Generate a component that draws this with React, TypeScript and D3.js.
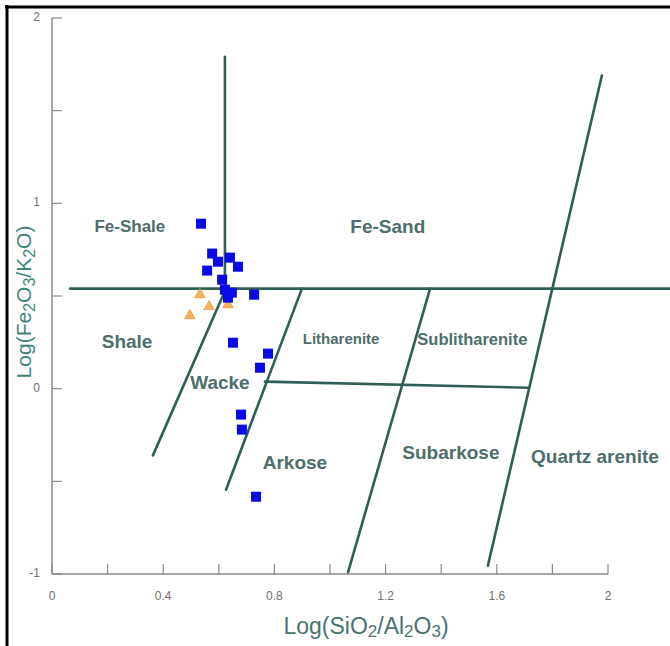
import React from "react";
import * as d3 from "d3";

const xTicks = [0, 0.2, 0.4, 0.6, 0.8, 1.0, 1.2, 1.4, 1.6, 1.8, 2.0];
const xTickLabels = ["0", "0.4", "0.8", "1.2", "1.6", "2"];
const xTickLabelVals = [0, 0.4, 0.8, 1.2, 1.6, 2];
const yTicks = [-1, -0.5, 0, 0.5, 1, 1.5, 2];
const yTickLabelVals = [-1, 0, 1, 2];
const yTickLabels = ["-1", "0", "1", "2"];

// boundary segments [x1,y1,x2,y2] in data units
const boundaries: [number, number, number, number][] = [
  [0.065, 0.54, 2.25, 0.54],
  [0.622, 1.79, 0.622, 0.54],
  [0.363, -0.36, 0.626, 0.54],
  [0.626, -0.545, 0.899, 0.54],
  [0.766, 0.038, 1.712, 0.005],
  [1.065, -0.99, 1.36, 0.54],
  [1.568, -0.955, 1.978, 1.69],
];

const regionNames = ["Fe-Shale", "Fe-Sand", "Shale", "Wacke", "Litharenite", "Sublitharenite", "Arkose", "Subarkose", "Quartz arenite"];
const regionX = [0.28, 1.208, 0.27, 0.604, 1.04, 1.512, 0.874, 1.435, 1.953];
const regionY = [0.87, 0.865, 0.245, 0.025, 0.26, 0.26, -0.405, -0.35, -0.375];
const regionSize = [17, 19, 19, 19, 15, 16.5, 19, 19, 19];

const blueX = [0.536, 0.576, 0.558, 0.597, 0.64, 0.669, 0.612, 0.622, 0.647, 0.633, 0.727, 0.651, 0.777, 0.748, 0.68, 0.683, 0.734];
const blueY = [0.89, 0.729, 0.637, 0.685, 0.707, 0.658, 0.588, 0.534, 0.518, 0.491, 0.507, 0.248, 0.189, 0.113, -0.14, -0.221, -0.583];

const orangeX = [0.532, 0.565, 0.496, 0.633];
const orangeY = [0.507, 0.443, 0.394, 0.453];

export default function App() {
  const x = d3.scaleLinear().domain([0, 2]).range([52, 608]);
  const y = d3.scaleLinear().domain([-1, 2]).range([574, 18]);
  const lineColor = "#2f5e57";
  const textColor = "#4d6e6b";
  const axisColor = "#8a8a8a";
  const tri = d3.symbol().type(d3.symbolTriangle).size(48)();

  return (
    <svg width={670} height={646} style={{ position: "absolute", left: 0, top: 0 }} fontFamily="'Liberation Sans', Arial, sans-serif">
      <rect x={0} y={0} width={670} height={646} fill="#fff" />
      {/* frame */}
      <line x1={5} y1={7} x2={670} y2={7} stroke="#000" strokeWidth={3} />
      <line x1={7} y1={5} x2={7} y2={646} stroke="#000" strokeWidth={3} />

      {/* axes */}
      <line x1={x(0)} y1={y(2)} x2={x(0)} y2={y(-1)} stroke={axisColor} strokeWidth={1.5} />
      <line x1={x(0)} y1={y(-1)} x2={x(2)} y2={y(-1)} stroke={axisColor} strokeWidth={1.5} />
      {xTicks.map((t, i) => (
        <line key={"xt" + i} x1={x(t)} x2={x(t)} y1={y(-1)} y2={y(-1) - 10} stroke={axisColor} strokeWidth={1.2} />
      ))}
      {yTicks.map((t, i) => (
        <line key={"yt" + i} x1={x(0)} x2={x(0) + 10} y1={y(t)} y2={y(t)} stroke={axisColor} strokeWidth={1.2} />
      ))}
      {xTickLabelVals.map((t, i) => (
        <text key={"xl" + i} x={x(t)} y={y(-1) + 26} textAnchor="middle" fontSize={12} fill="#707070">
          {xTickLabels[i]}
        </text>
      ))}
      {yTickLabelVals.map((t, i) => (
        <text key={"yl" + i} x={x(0) - 12} y={y(t) + 3} textAnchor="end" fontSize={12} fill="#707070">
          {yTickLabels[i]}
        </text>
      ))}

      {/* boundaries */}
      {boundaries.map((b, i) => (
        <line key={"b" + i} x1={x(b[0])} y1={y(b[1])} x2={x(b[2])} y2={y(b[3])} stroke={lineColor} strokeWidth={2.6} strokeLinecap="round" />
      ))}

      {/* region labels */}
      {regionNames.map((n, i) => (
        <text key={"r" + i} x={x(regionX[i])} y={y(regionY[i])} textAnchor="middle" dominantBaseline="middle" fontSize={regionSize[i]} fontWeight="bold" fill={textColor}>
          {n}
        </text>
      ))}

      {/* points */}
      {orangeX.map((v, i) => (
        <path key={"o" + i} d={tri as string} transform={`translate(${x(v)},${y(orangeY[i])})`} fill="#f5b35e" stroke="#e8993a" strokeWidth={0.8} />
      ))}
      {blueX.map((v, i) => (
        <rect key={"s" + i} x={x(v) - 5} y={y(blueY[i]) - 5} width={10} height={10} fill="#0a0ae6" />
      ))}

      {/* axis titles */}
      <text x={366} y={634} textAnchor="middle" fontSize={23} fill="#4a7470">
        Log(SiO<tspan fontSize={17} dy={3}>2</tspan><tspan dy={-3}>/Al</tspan><tspan fontSize={17} dy={3}>2</tspan><tspan dy={-3}>O</tspan><tspan fontSize={17} dy={3}>3</tspan><tspan dy={-3}>)</tspan>
      </text>
      <text transform="translate(31,302) rotate(-90)" textAnchor="middle" fontSize={21} fill="#3f857c">
        Log(Fe<tspan fontSize={16} dy={4}>2</tspan><tspan dy={-4}>O</tspan><tspan fontSize={16} dy={4}>3</tspan><tspan dy={-4}>/K</tspan><tspan fontSize={16} dy={4}>2</tspan><tspan dy={-4}>O)</tspan>
      </text>
    </svg>
  );
}
